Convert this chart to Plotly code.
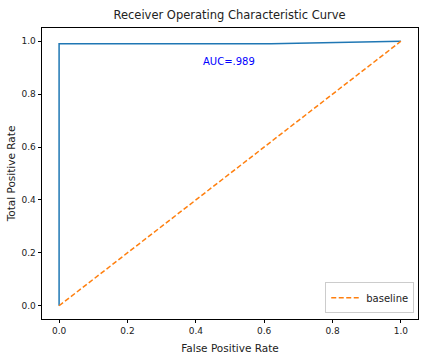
import plotly.graph_objects as go

roc_fpr = [0.0, 0.0, 0.62, 1.0]
roc_tpr = [0.0, 0.99, 0.99, 1.0]
base_x = [0.0, 1.0]
base_y = [0.0, 1.0]
ticks = [0.0, 0.2, 0.4, 0.6, 0.8, 1.0]
tick_text = ["0.0", "0.2", "0.4", "0.6", "0.8", "1.0"]
auc_label = "AUC=.989"
auc_pos = (0.415, 0.925)

font = "DejaVu Sans"
fig = go.Figure()
fig.add_trace(go.Scatter(x=roc_fpr, y=roc_tpr, mode="lines", line=dict(color="#1f77b4", width=1.5),
                         showlegend=False))
fig.add_trace(go.Scatter(x=base_x, y=base_y, mode="lines", name="baseline",
                         line=dict(color="#ff7f0e", width=1.5, dash="5px,2.5px")))
fig.add_annotation(x=auc_pos[0], y=auc_pos[1], text=auc_label, showarrow=False,
                   xanchor="left", yanchor="middle", font=dict(color="blue", size=10, family=font))

axis_common = dict(range=[-0.05, 1.05], tickvals=ticks, ticktext=tick_text, ticks="outside", ticklen=3.5,
                   tickwidth=0.8, tickcolor="black", showline=True, linecolor="black", linewidth=0.8,
                   mirror=True, showgrid=False, zeroline=False, automargin=False,
                   tickfont=dict(size=9, family=font, color="#222"))
fig.update_xaxes(**axis_common, title=dict(text="False Positive Rate", font=dict(size=10.5, family=font, color="#222"), standoff=9))
fig.update_yaxes(**axis_common, title=dict(text="Total Positive Rate", font=dict(size=10.5, family=font, color="#222"), standoff=3))

fig.update_layout(
    width=429, height=358,
    margin=dict(l=42, r=11, t=28, b=39),
    paper_bgcolor="white", plot_bgcolor="white",
    title=dict(text="Receiver Operating Characteristic Curve", x=0.535, xanchor="center", y=0.958, yanchor="middle",
               font=dict(size=11.5, family=font, color="#222")),
    legend=dict(x=0.99, y=0.02, xanchor="right", yanchor="bottom", bgcolor="rgba(255,255,255,0.8)",
                bordercolor="#cccccc", borderwidth=1, itemwidth=30, font=dict(size=10, family=font, color="#222")),
)
fig.write_html("out.html", config={"displayModeBar": False},
               post_script="document.body.style.margin='0';document.body.style.padding='0';")
